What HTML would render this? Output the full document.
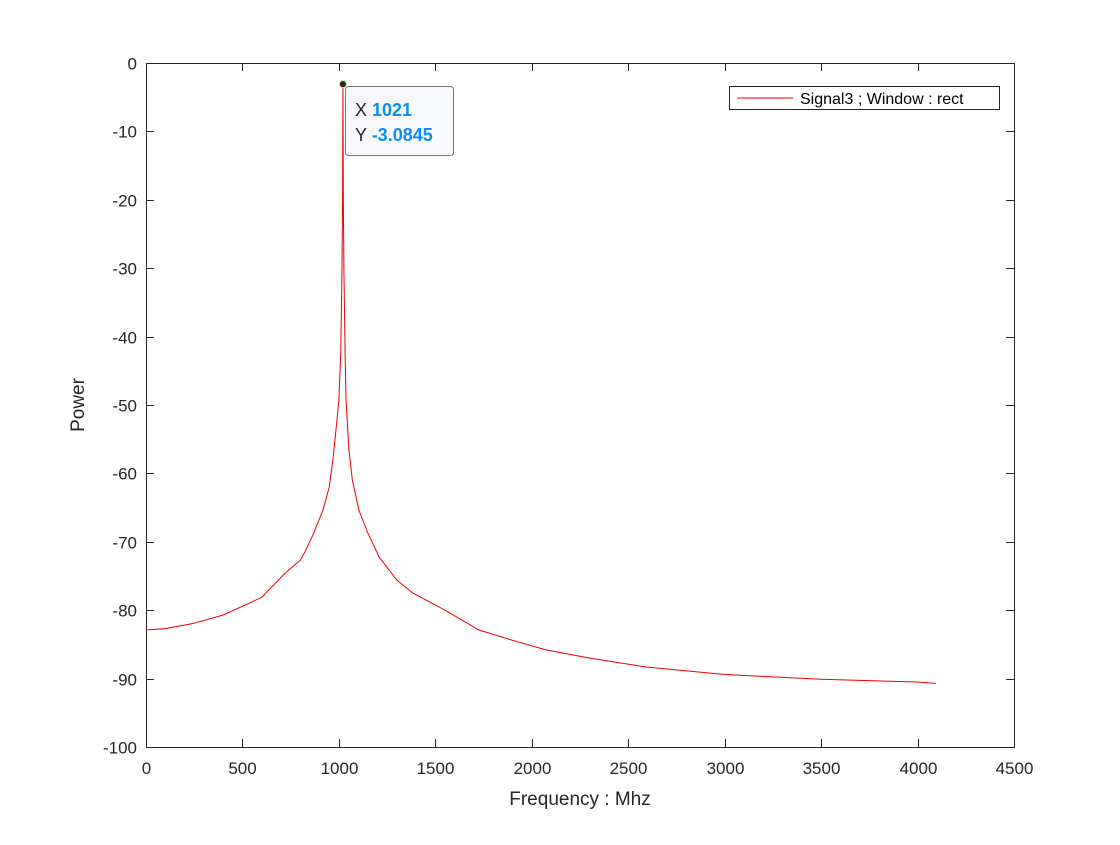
<!DOCTYPE html>
<html><head><meta charset="utf-8"><style>
body{margin:0;background:#fff;}
svg text{font-family:"Liberation Sans",sans-serif;}
</style></head><body>
<svg id="chart" width="1120" height="840" xmlns="http://www.w3.org/2000/svg">
<rect width="1120" height="840" fill="#fff"/>
<g id="axes"></g>
<g id="plot"></g>
<g>
<rect x="729.5" y="86.5" width="270" height="23" fill="#fff" stroke="#262626" stroke-width="1"/>
<line x1="737" y1="98" x2="793" y2="98" stroke="#e00" stroke-width="1"/>
<text x="800" y="104" font-size="16" fill="#000">Signal3 ; Window : rect</text>
</g>
<g>
<rect x="345.5" y="86.5" width="108" height="69" rx="3" fill="#f7f9fd" stroke="#777" stroke-width="1"/>
<text x="355" y="116" font-size="18" fill="#262626">X <tspan font-weight="bold" fill="#0a8ef0">1021</tspan></text>
<text x="355" y="141" font-size="18" fill="#262626">Y <tspan font-weight="bold" fill="#0a8ef0">-3.0845</tspan></text>
</g>
<text x="580" y="805" font-size="19" text-anchor="middle" fill="#262626">Frequency : Mhz</text>
<text transform="translate(84,405) rotate(-90)" font-size="19" text-anchor="middle" fill="#262626">Power</text>
</svg>
<script>
const freqs=[0,100,250,400,518,600,721,800,829,870,917,950,969,990,1000,1010,1016,1019,1021,1023,1026,1032,1037,1052,1070,1104,1150,1208,1300,1384,1550,1726,1900,2073,2300,2592,3000,3500,4000,4095];
const power=[-82.9,-82.7,-81.9,-80.7,-79.2,-78.1,-74.6,-72.7,-71.2,-68.7,-65.4,-62.0,-58.0,-52.2,-49.3,-42,-30,-20,-3.0845,-20,-30,-42,-49.3,-56.6,-61.0,-65.4,-68.7,-72.2,-75.6,-77.5,-80.0,-82.9,-84.4,-85.8,-87.0,-88.3,-89.4,-90.1,-90.5,-90.7];
const xTicks=[0,500,1000,1500,2000,2500,3000,3500,4000,4500];
const yTicks=[0,-10,-20,-30,-40,-50,-60,-70,-80,-90,-100];
const X0=146,X1=1014,Y0=63,Y1=747;
function sx(v){return X0+(v-0)/4500*(X1-X0);}
function sy(v){return Y0+(0-v)/100*(Y1-Y0);}
const NS='http://www.w3.org/2000/svg';
const axes=document.getElementById('axes');
function mk(tag,attrs,parent){const e=document.createElementNS(NS,tag);for(const k in attrs)e.setAttribute(k,attrs[k]);parent.appendChild(e);return e;}
const box=mk('rect',{x:X0+0.5,y:Y0+0.5,width:X1-X0,height:Y1-Y0,fill:'none',stroke:'#262626','stroke-width':1},axes);


xTicks.forEach(t=>{
  const x=Math.round(sx(t))+0.5;
  mk('line',{x1:x,y1:Y1,x2:x,y2:Y1-8,stroke:'#262626'},axes);
  mk('line',{x1:x,y1:Y0,x2:x,y2:Y0+8,stroke:'#262626'},axes);
  const tx=mk('text',{x:x,y:Y1+27,'font-size':17,'text-anchor':'middle',fill:'#262626'},axes);
  tx.textContent=t;
  
  
});
yTicks.forEach(t=>{
  const y=Math.round(sy(t))+0.5;
  mk('line',{x1:X0,y1:y,x2:X0+8,y2:y,stroke:'#262626'},axes);
  mk('line',{x1:X1,y1:y,x2:X1-8,y2:y,stroke:'#262626'},axes);
  const ty=mk('text',{x:X0-9,y:y+6,'font-size':17,'text-anchor':'end',fill:'#262626'},axes);
  ty.textContent=t;
  
  
});
const plot=document.getElementById('plot');
const d=freqs.map((f,i)=>(i?'L':'M')+sx(f).toFixed(2)+','+sy(power[i]).toFixed(2)).join(' ');
const line=mk('path',{d:d,fill:'none',stroke:'#e00','stroke-width':1,'stroke-linejoin':'round'},plot);


const pk=power.indexOf(Math.max(...power));
const dot=mk('circle',{cx:sx(freqs[pk]),cy:sy(power[pk]),r:3.5,fill:'#222',stroke:'#cc8'},plot);


</script>
</body></html>
